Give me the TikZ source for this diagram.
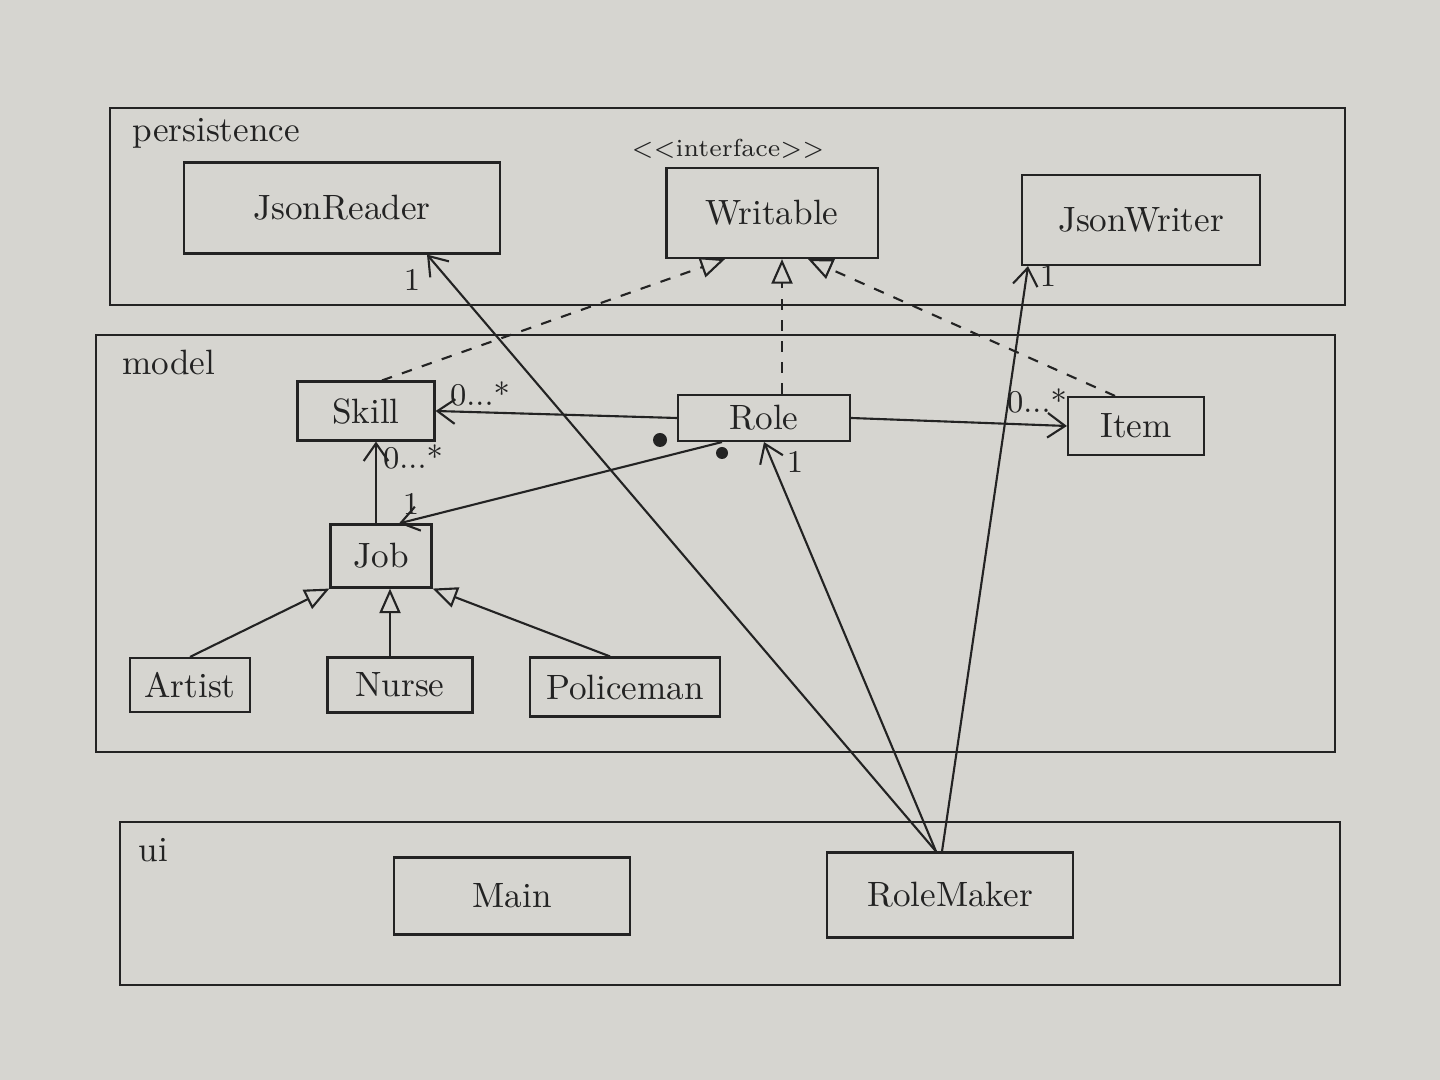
\documentclass[tikz,border=0pt]{standalone}
\usetikzlibrary{calc, arrows.meta}
\definecolor{paper}{RGB}{214,213,208}
\definecolor{ink}{RGB}{35,35,35}

\begin{document}
\begin{tikzpicture}[x=0.01cm, y=-0.01cm, semithick, color=ink,
  cls/.style={draw, rectangle, inner sep=0pt, font=\normalsize},
  pkg/.style={anchor=north west, inner sep=1pt},
  realize/.style={dashed, -{Triangle[open, length=7pt, width=6pt]}},
  inherit/.style={-{Triangle[open, length=7pt, width=6pt]}},
  assoc/.style={-{Straight Barb[length=5pt, width=7pt]}},
  mult/.style={font=\small, inner sep=1pt}]
  % paper, one page = 1440 x 1080 px
  \fill[paper] (0,0) rectangle (1440,1080);
  \useasboundingbox (0,0) rectangle (1440,1080);

  % packages
  \draw (110,108) rectangle (1345,305);
  \node[pkg] (persistence) at (128,114) {persistence};
  \draw (96,335) rectangle (1335,752);
  \node[pkg] (model) at (118,346) {model};
  \draw (120,822) rectangle (1340,985);
  \node[pkg] (ui) at (134,834) {ui};

  % persistence classes
  \node[cls, minimum width=3.15cm, minimum height=0.91cm] (jsonreader) at (342,208) {JsonReader};
  \node[cls, minimum width=2.11cm, minimum height=0.90cm] (writable) at (772,213) {Writable};
  \node[font=\scriptsize, anchor=south, inner sep=1pt] (stereo) at (728,163) {<{}<interface>{}>};
  \node[cls, minimum width=2.38cm, minimum height=0.90cm] (jsonwriter) at (1141,220) {JsonWriter};

  % model classes
  \node[cls, minimum width=1.37cm, minimum height=0.59cm] (skill) at (366,411) {Skill};
  \node[cls, minimum width=1.72cm, minimum height=0.46cm] (role) at (764,418) {Role};
  \node[cls, minimum width=1.36cm, minimum height=0.58cm] (item) at (1136,426) {Item};
  \node[cls, minimum width=1.01cm, minimum height=0.63cm] (job) at (381,556) {Job};
  \node[cls, minimum width=1.20cm, minimum height=0.54cm] (artist) at (190,685) {Artist};
  \node[cls, minimum width=1.45cm, minimum height=0.55cm] (nurse) at (400,685) {Nurse};
  \node[cls, minimum width=1.90cm, minimum height=0.59cm] (policeman) at (625,687) {Policeman};

  % ui classes
  \node[cls, minimum width=2.35cm, minimum height=0.77cm] (main) at (512,896) {Main};
  \node[cls, minimum width=2.46cm, minimum height=0.85cm] (rolemaker) at (950,895) {RoleMaker};

  % realizations of Writable
  \draw[realize] ($(skill.north)+(16,0)$) -- ($(writable.south)+(-47,0)$);
  \draw[realize] ($(role.north)+(18,0)$) -- ($(writable.south)+(10,0)$);
  \draw[realize] ($(item.north)+(-21,0)$) -- ($(writable.south)+(36,0)$);

  % associations in model
  \draw[assoc] (role.west) -- (skill.east);
  \node[mult] (mskill) at (480,394) {0...*};
  \draw[assoc] (role.east) -- (item.west);
  \node[mult] (mitem) at (1037,401) {0...*};
  \draw[assoc] ($(job.north)+(-5,0)$) -- ($(skill.south)+(10,0)$);
  \node[mult] (mjobskill) at (413,457) {0...*};
  \draw[assoc] ($(role.south)+(-42,0)$) -- ($(job.north)+(18,0)$);
  \node[mult] (mjob) at (411,504) {1};
  \fill (660,440) circle (0.07cm);
  \fill (722,453) circle (0.06cm);

  % jobs
  \draw[inherit] (artist.north) -- (job.south west);
  \draw[inherit] ($(nurse.north)+(-10,0)$) -- ($(job.south)+(9,0)$);
  \draw[inherit] ($(policeman.north)+(-15,0)$) -- (job.south east);

  % RoleMaker uses
  \coordinate (rmtop) at ($(rolemaker.north)+(-14,0)$);
  \draw[assoc] (rmtop) -- ($(jsonreader.south)+(85,0)$);
  \node[mult] (mreader) at (412,280) {1};
  \draw[assoc] (rmtop) -- (role.south);
  \node[mult] (mrole) at (795,462) {1};
  \draw[assoc] ($(rolemaker.north)+(-8,0)$) -- ($(jsonwriter.south)+(-113,0)$);
  \node[mult] (mwriter) at (1048,276) {1};
\end{tikzpicture}
\end{document}
